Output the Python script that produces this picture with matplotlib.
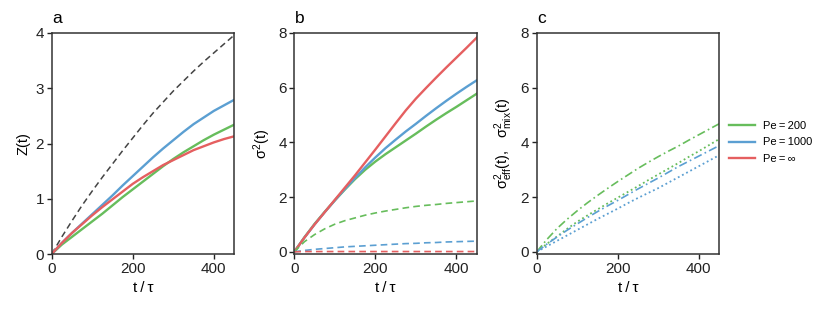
import matplotlib
matplotlib.use("Agg")
import matplotlib.pyplot as plt

plt.rcParams['font.family'] = ['Liberation Sans', 'DejaVu Sans']
plt.rcParams['font.size'] = 10
plt.rcParams['axes.linewidth'] = 1.1
plt.rcParams['axes.edgecolor'] = '#333333'
plt.rcParams['xtick.color'] = '#222222'
plt.rcParams['ytick.color'] = '#222222'

# ---------------- data ----------------
t = [0, 25, 50, 75, 100, 125, 150, 175, 200, 225, 250, 275, 300, 325, 350, 375, 400, 425, 450]

# panel a: Z(t)
z_ref = [0, 0.31, 0.60, 0.88, 1.14, 1.39, 1.63, 1.87, 2.10, 2.33, 2.55, 2.75, 2.95, 3.13, 3.31, 3.48, 3.64, 3.80, 3.96]
z_pe200 = [0, 0.17, 0.31, 0.45, 0.59, 0.73, 0.88, 1.03, 1.17, 1.31, 1.45, 1.59, 1.72, 1.84, 1.95, 2.06, 2.16, 2.25, 2.34]
z_pe1000 = [0, 0.20, 0.38, 0.55, 0.72, 0.89, 1.06, 1.24, 1.41, 1.58, 1.75, 1.91, 2.06, 2.21, 2.35, 2.47, 2.59, 2.69, 2.79]
z_peinf = [0, 0.20, 0.38, 0.54, 0.70, 0.85, 0.99, 1.13, 1.27, 1.39, 1.50, 1.61, 1.70, 1.79, 1.88, 1.95, 2.02, 2.08, 2.13]

# panel b: sigma^2(t) (solid) and second component (dashed)
s_pe200 = [0, 0.53, 1.02, 1.46, 1.88, 2.28, 2.66, 3.00, 3.30, 3.57, 3.82, 4.07, 4.32, 4.58, 4.83, 5.07, 5.30, 5.54, 5.78]
s_pe1000 = [0, 0.52, 1.00, 1.45, 1.88, 2.30, 2.70, 3.09, 3.45, 3.79, 4.10, 4.40, 4.68, 4.97, 5.25, 5.52, 5.78, 6.03, 6.27]
s_peinf = [0, 0.52, 1.00, 1.45, 1.90, 2.35, 2.80, 3.27, 3.74, 4.22, 4.70, 5.17, 5.60, 5.99, 6.37, 6.74, 7.10, 7.46, 7.83]
d_pe200 = [0, 0.37, 0.63, 0.84, 1.01, 1.14, 1.24, 1.34, 1.42, 1.49, 1.55, 1.61, 1.66, 1.70, 1.73, 1.77, 1.80, 1.83, 1.86]
d_pe1000 = [0, 0.05, 0.09, 0.12, 0.15, 0.18, 0.20, 0.22, 0.24, 0.26, 0.28, 0.30, 0.31, 0.33, 0.34, 0.36, 0.37, 0.38, 0.39]
d_peinf = [0, 0.01, 0.01, 0.01, 0.01, 0.01, 0.01, 0.01, 0.01, 0.01, 0.01, 0.01, 0.01, 0.01, 0.01, 0.01, 0.01, 0.01, 0.01]

# panel c: sigma^2_eff (dash-dot) and sigma^2_mix (dotted)
eff_pe200 = [0, 0.45, 0.85, 1.19, 1.50, 1.79, 2.06, 2.32, 2.57, 2.81, 3.05, 3.27, 3.48, 3.68, 3.87, 4.08, 4.28, 4.48, 4.68]
eff_pe1000 = [0, 0.28, 0.54, 0.79, 1.02, 1.25, 1.47, 1.68, 1.88, 2.09, 2.30, 2.50, 2.70, 2.91, 3.12, 3.31, 3.50, 3.69, 3.88]
mix_pe200 = [0, 0.29, 0.56, 0.84, 1.10, 1.33, 1.55, 1.77, 1.98, 2.19, 2.40, 2.62, 2.83, 3.04, 3.25, 3.47, 3.68, 3.90, 4.12]
mix_pe1000 = [0, 0.20, 0.40, 0.60, 0.80, 1.00, 1.20, 1.39, 1.58, 1.78, 1.97, 2.15, 2.33, 2.53, 2.73, 2.93, 3.13, 3.33, 3.53]

labels = ['Pe\u2009=\u2009200', 'Pe\u2009=\u20091000', 'Pe\u2009=\u2009\u221e']
xticks = [0, 200, 400]

green = '#67bd5c'
blue = '#5b9fd2'
red = '#e55f60'
gray = '#444444'

W, H = 830, 309
fig = plt.figure(figsize=(W / 100, H / 100), dpi=100)

def make_ax(left_px):
    return fig.add_axes([left_px / W, (H - 254) / H, 182.4 / W, 221 / H])

axa = make_ax(51.7)
axb = make_ax(294.3)
axc = make_ax(536.7)

lw = 1.7
dash = (0, (4, 2.5))
# panel a
axa.plot(t, z_ref, color=gray, lw=1.1, ls=dash)
axa.plot(t, z_pe200, color=green, lw=lw)
axa.plot(t, z_pe1000, color=blue, lw=lw)
axa.plot(t, z_peinf, color=red, lw=lw)
axa.set_ylim(0, 4)
axa.set_yticks([0, 1, 2, 3, 4])
axa.set_ylabel('Z(t)', fontsize=10.5)

# panel b
axb.plot(t, s_pe200, color=green, lw=lw)
axb.plot(t, s_pe1000, color=blue, lw=lw)
axb.plot(t, s_peinf, color=red, lw=lw)
axb.plot(t, d_pe200, color=green, lw=1.2, ls=dash)
axb.plot(t, d_pe1000, color=blue, lw=1.2, ls=dash)
axb.plot(t, d_peinf, color=red, lw=1.2, ls=dash)
axb.set_ylim(-0.08, 8)
axb.set_yticks([0, 2, 4, 6, 8])
axb.set_ylabel(r'$\mathregular{\sigma^2(t)}$', fontsize=10.5)

# panel c
axc.plot(t, eff_pe200, color=green, lw=1.2, ls=(0, (5, 2, 1, 2)))
axc.plot(t, mix_pe200, color=green, lw=1.3, ls=(0, (1, 1.6)))
axc.plot(t, eff_pe1000, color=blue, lw=1.2, ls=(0, (5, 2, 1, 2)))
axc.plot(t, mix_pe1000, color=blue, lw=1.3, ls=(0, (1, 1.6)))
axc.set_ylim(-0.08, 8)
axc.set_yticks([0, 2, 4, 6, 8])
axc.set_ylabel(r'$\mathregular{\sigma^2_{eff}(t),\ \ \sigma^2_{mix}(t)}$', fontsize=10.5)

# legend handles (solid lines)
hs = [axc.plot([], [], color=c, lw=lw)[0] for c in (green, blue, red)]
axc.legend(hs, labels, loc='center left', bbox_to_anchor=(1.01, 0.505),
           frameon=False, fontsize=8, handlelength=2.4, handletextpad=0.7,
           labelspacing=0.55, borderaxespad=0.3)

for ax, letter in zip((axa, axb, axc), 'abc'):
    ax.set_xlim(0, 450)
    ax.set_xticks(xticks)
    ax.set_xlabel('t\u2009/\u2009\u03c4', fontsize=11, labelpad=3.5)
    ax.tick_params(direction='out', length=3.5, width=1.0, labelsize=11, pad=2)
    ax.text(0.005, 1.03, letter, transform=ax.transAxes, fontsize=12.5,
            ha='left', va='bottom')

fig.savefig('out.png', dpi=100)
